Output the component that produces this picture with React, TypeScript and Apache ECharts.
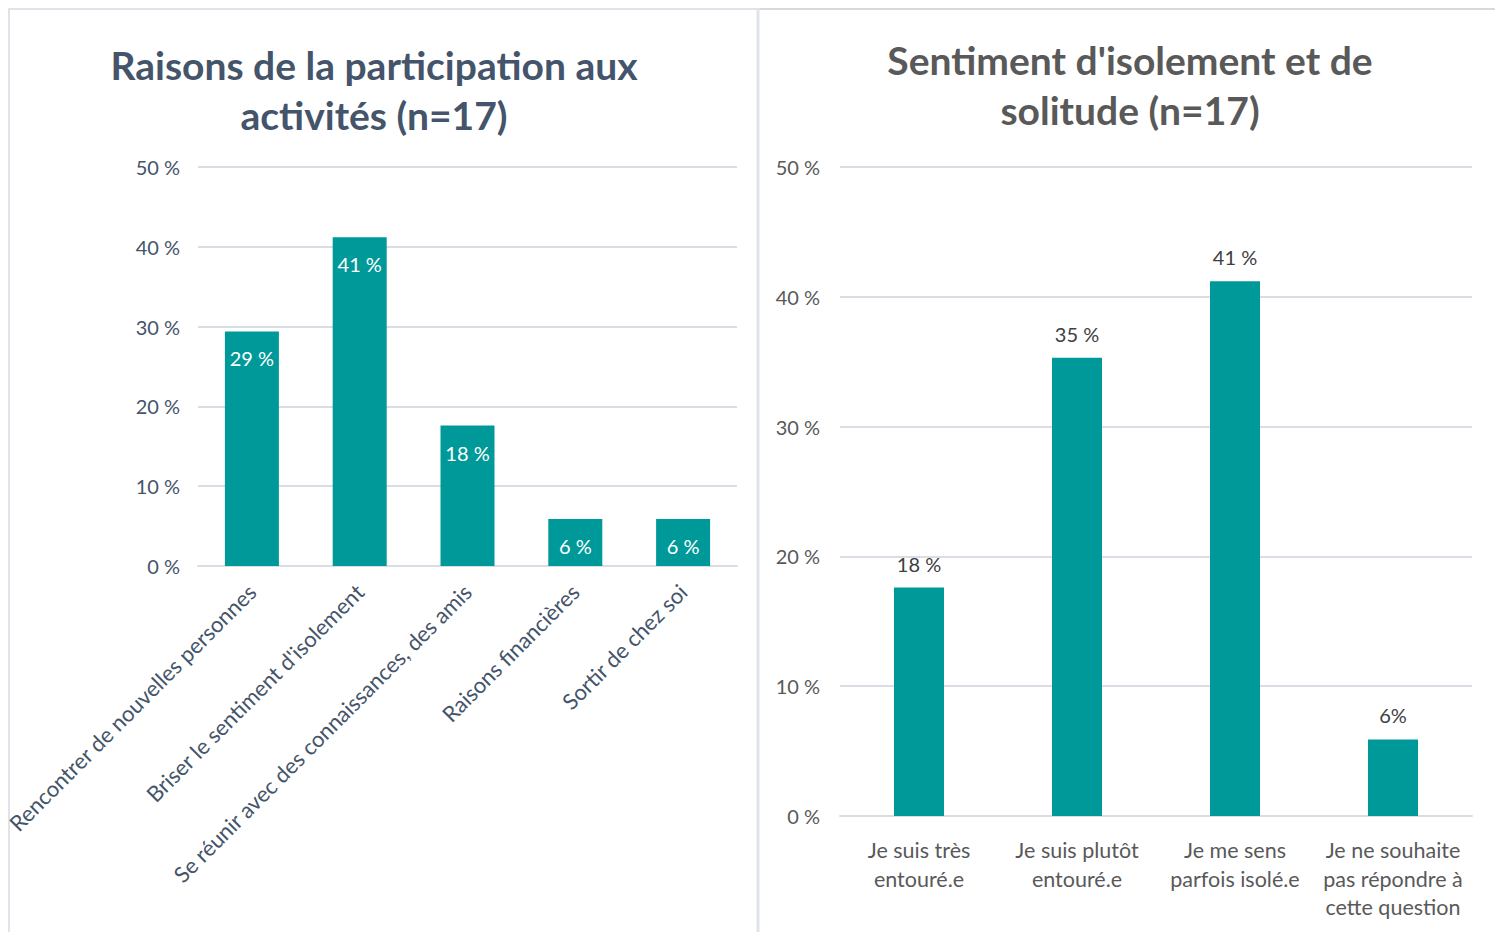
import React, { useEffect, useRef } from "react";
import * as echarts from "echarts";

const leftTitle = "Raisons de la participation aux\nactivités (n=17)";
const rightTitle = "Sentiment d'isolement et de\nsolitude (n=17)";

const leftCategories = [
  "Rencontrer de nouvelles personnes",
  "Briser le sentiment d'isolement",
  "Se réunir avec des connaissances, des amis",
  "Raisons financières",
  "Sortir de chez soi",
];
const leftValues = [29.4, 41.2, 17.6, 5.9, 5.9];
const leftValueLabels = ["29 %", "41 %", "18 %", "6 %", "6 %"];

const rightCategories = [
  "Je suis très\nentouré.e",
  "Je suis plutôt\nentouré.e",
  "Je me sens\nparfois isolé.e",
  "Je ne souhaite\npas répondre à\ncette question",
];
const rightValues = [17.6, 35.3, 41.2, 5.9];
const rightValueLabels = ["18 %", "35 %", "41 %", "6%"];

const yTicks = { min: 0, max: 50, interval: 10 };

const FONT = "Lato, 'Open Sans', sans-serif";
const TEAL = "#009999";
const LEFT_TEXT = "#44546a";
const RIGHT_TEXT = "#595959";
const GRID_LINE = "#dadee4";

export default function App() {
  const ref = useRef<HTMLDivElement>(null);

  useEffect(() => {
    if (!ref.current) return;
    const chart = echarts.init(ref.current, undefined, { renderer: "svg" });
    chart.setOption({
      animation: false,
      backgroundColor: "#ffffff",
      textStyle: { fontFamily: FONT },
      title: [
        {
          text: leftTitle,
          left: 374,
          top: 40,
          textAlign: "center",
          padding: 0,
          textStyle: {
            fontFamily: FONT,
            fontWeight: "bold",
            fontSize: 39,
            lineHeight: 50,
            color: LEFT_TEXT,
          },
        },
        {
          text: rightTitle,
          left: 1130,
          top: 35,
          textAlign: "center",
          padding: 0,
          textStyle: {
            fontFamily: FONT,
            fontWeight: "bold",
            fontSize: 39,
            lineHeight: 50,
            color: RIGHT_TEXT,
          },
        },
      ],
      grid: [
        { left: 198, right: 758, top: 167, bottom: 366 },
        { left: 840, right: 23, top: 167, bottom: 116 },
      ],
      xAxis: [
        {
          type: "category",
          gridIndex: 0,
          data: leftCategories,
          axisTick: { show: false },
          axisLine: { lineStyle: { color: GRID_LINE, width: 2 } },
          axisLabel: {
            rotate: 45,
            margin: 22,
            interval: 0,
            fontFamily: FONT,
            fontSize: 22,
            color: LEFT_TEXT,
          },
        },
        {
          type: "category",
          gridIndex: 1,
          data: rightCategories,
          axisTick: { show: false },
          axisLine: { lineStyle: { color: GRID_LINE, width: 2 } },
          axisLabel: {
            margin: 20,
            interval: 0,
            fontFamily: FONT,
            fontSize: 21.5,
            lineHeight: 28.5,
            color: RIGHT_TEXT,
            align: "center",
          },
        },
      ],
      yAxis: [
        {
          type: "value",
          gridIndex: 0,
          ...yTicks,
          axisLine: { show: false },
          axisTick: { show: false },
          splitLine: { lineStyle: { color: GRID_LINE, width: 2 } },
          axisLabel: {
            formatter: "{value} %",
            margin: 18,
            fontFamily: FONT,
            fontSize: 20,
            color: LEFT_TEXT,
          },
        },
        {
          type: "value",
          gridIndex: 1,
          ...yTicks,
          axisLine: { show: false },
          axisTick: { show: false },
          splitLine: { lineStyle: { color: GRID_LINE, width: 2 } },
          axisLabel: {
            formatter: "{value} %",
            margin: 20,
            fontFamily: FONT,
            fontSize: 20,
            color: RIGHT_TEXT,
          },
        },
      ],
      series: [
        {
          type: "bar",
          xAxisIndex: 0,
          yAxisIndex: 0,
          data: leftValues,
          barWidth: 54,
          itemStyle: { color: TEAL },
          label: {
            show: true,
            position: "insideTop",
            distance: 17,
            fontFamily: FONT,
            fontSize: 20,
            color: "#ffffff",
            formatter: (p: any) => leftValueLabels[p.dataIndex],
          },
        },
        {
          type: "bar",
          xAxisIndex: 1,
          yAxisIndex: 1,
          data: rightValues,
          barWidth: 50,
          itemStyle: { color: TEAL },
          label: {
            show: true,
            position: "top",
            distance: 14,
            fontFamily: FONT,
            fontSize: 20,
            color: "#404040",
            formatter: (p: any) => rightValueLabels[p.dataIndex],
          },
        },
      ],
      graphic: [
        {
          type: "line",
          shape: { x1: 8, y1: 9, x2: 758, y2: 9 },
          style: { stroke: "#dfe4ea", lineWidth: 2 },
        },
        {
          type: "line",
          shape: { x1: 758, y1: 9, x2: 1495, y2: 9 },
          style: { stroke: "#d9d9d9", lineWidth: 2 },
        },
        {
          type: "line",
          shape: { x1: 9, y1: 8, x2: 9, y2: 932 },
          style: { stroke: "#dfe4ea", lineWidth: 2 },
        },
        {
          type: "line",
          shape: { x1: 758, y1: 8, x2: 758, y2: 932 },
          style: { stroke: "#dfe4ea", lineWidth: 3 },
        },
      ],
    });
    return () => chart.dispose();
  }, []);

  return (
    <div
      ref={ref}
      style={{ position: "absolute", left: 0, top: 0, width: 1495, height: 932 }}
    />
  );
}
